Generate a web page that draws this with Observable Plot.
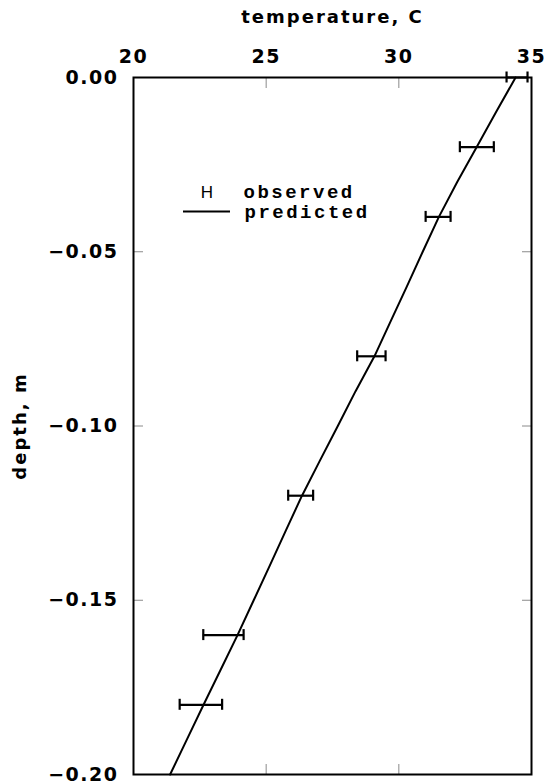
<!DOCTYPE html>
<html><head><meta charset="utf-8">
<script src="https://cdn.jsdelivr.net/npm/d3@7"></script>
<script src="https://cdn.jsdelivr.net/npm/@observablehq/plot@0.6"></script>
<style>
body{margin:0;background:#fff;}
#wrap{position:relative;width:545px;height:783px;}
</style></head><body><div id="wrap"></div>
<script>
// predicted profile
const predDepth = [0,-0.01,-0.02,-0.03,-0.04,-0.05,-0.06,-0.07,-0.08,-0.09,-0.10,-0.11,-0.12,-0.13,-0.14,-0.15,-0.16,-0.17,-0.18,-0.19,-0.20];
const predTemp  = [34.40,33.66,32.93,32.20,31.51,30.90,30.30,29.69,29.08,28.37,27.70,27.02,26.35,25.74,25.14,24.53,23.92,23.28,22.64,22.01,21.38];
// observed with error range
const obsDepth = [0,-0.02,-0.04,-0.08,-0.12,-0.16,-0.18];
const obsLow   = [34.06,32.30,31.01,28.43,25.83,22.63,21.74];
const obsHigh  = [34.85,33.58,31.95,29.50,26.77,24.15,23.34];
const xTicks = [20,25,30,35];
const yTicks = [0,-0.05,-0.10,-0.15,-0.20];
const xInnerTicks = [25,30];
const yInnerTicks = [-0.05,-0.10,-0.15];
const xTitle = "temperature, C";
const yTitle = "depth, m";
const legendObserved = "observed";
const legendPredicted = "predicted";
const legendSymbol = "H";

const pred = predDepth.map((d,i)=>({depth:d, temp:predTemp[i]}));
const obs = obsDepth.map((d,i)=>({depth:d, lo:obsLow[i], hi:obsHigh[i]}));

const tickColor = "#8a8a8a";
const chart = Plot.plot({
  width: 545, height: 783,
  marginTop: 77, marginLeft: 133, marginRight: 14, marginBottom: 9,
  style: {fontFamily: "'DejaVu Sans'", fontWeight: "bold", fontSize: "19px", color: "#000", background: "#fff"},
  x: {domain: [20,35]},
  y: {domain: [-0.2,0]},
  marks: [
    Plot.axisX(xTicks, {anchor:"top", tickSize:0, tickPadding:15, label:null, fontSize:19}),
    Plot.axisX(xInnerTicks, {anchor:"top", tickSize:10, dy:10, text:null, label:null, stroke:tickColor}),
    Plot.axisX(xInnerTicks, {anchor:"bottom", tickSize:10, dy:-10, text:null, label:null, stroke:tickColor}),
    Plot.axisY(yTicks, {anchor:"left", tickSize:0, tickPadding:15, label:null, tickFormat:d3.format(".2f"), fontSize:19}),
    Plot.axisY(yInnerTicks, {anchor:"left", tickSize:10, dx:10, text:null, label:null, stroke:tickColor}),
    Plot.axisY(yInnerTicks, {anchor:"right", tickSize:10, dx:-10, text:null, label:null, stroke:tickColor}),
    Plot.line(pred, {x:"temp", y:"depth", stroke:"black", strokeWidth:2}),
    Plot.ruleY(obs, {y:"depth", x1:"lo", x2:"hi", stroke:"black", strokeWidth:2.2}),
    Plot.ruleX(obs, {x:"lo", y1:"depth", y2:"depth", insetTop:-5.5, insetBottom:-5.5, stroke:"black", strokeWidth:2.2}),
    Plot.ruleX(obs, {x:"hi", y1:"depth", y2:"depth", insetTop:-5.5, insetBottom:-5.5, stroke:"black", strokeWidth:2.2}),
    Plot.frame({stroke:"black", strokeWidth:2}),
    Plot.text([xTitle], {frameAnchor:"top", dy:-55, lineAnchor:"bottom", text:d=>d, fontSize:18}),
    Plot.text([yTitle], {frameAnchor:"left", dx:-113, rotate:-90, textAnchor:"middle", lineAnchor:"middle", text:d=>d, fontSize:18}),
    Plot.text([legendSymbol], {frameAnchor:"top-left", dx:73.5, dy:120.5, lineAnchor:"bottom", textAnchor:"middle", text:d=>d, fontSize:17, fontWeight:"normal", fontFamily:"'Liberation Sans'"}),
    Plot.text([legendObserved], {frameAnchor:"top-left", dx:110, dy:120, lineAnchor:"bottom", textAnchor:"start", text:d=>d, fontSize:19, fontWeight:"bold", fontFamily:"'Liberation Mono'"}),
    Plot.text([legendPredicted], {frameAnchor:"top-left", dx:111, dy:140, lineAnchor:"bottom", textAnchor:"start", text:d=>d, fontSize:19, fontWeight:"bold", fontFamily:"'Liberation Mono'"})
  ]
});
document.getElementById("wrap").append(chart);
const svg = d3.select(chart);
svg.selectAll("text").each(function(){
  const t = d3.select(this).text();
  if (t === legendObserved || t === legendPredicted) d3.select(this).style("letter-spacing","2.5px");
  else if (t === xTitle || t === yTitle) d3.select(this).style("letter-spacing","2px");
  else if (t !== legendSymbol) d3.select(this).style("letter-spacing","1.5px");
});
// legend line sample
svg.append("line").attr("x1",183).attr("x2",230).attr("y1",211.5).attr("y2",211.5)
  .attr("stroke","black").attr("stroke-width",2);
</script></body></html>
